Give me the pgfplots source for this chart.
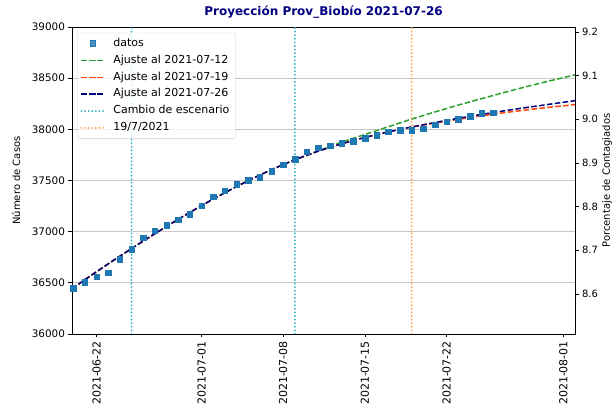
\documentclass[border=0pt]{standalone}
\usepackage{pgfplots}
\pgfplotsset{compat=1.18}
\usepackage{fontspec}
\setmainfont{DejaVu Sans}
\definecolor{tabblue}{HTML}{1F77B4}
\definecolor{tabgreen}{HTML}{2CA02C}
\definecolor{fitred}{HTML}{FF4500}
\definecolor{fitnavy}{HTML}{000080}
\definecolor{tealdot}{HTML}{17AEBF}
\definecolor{orangedot}{HTML}{FF9933}
\definecolor{titlenavy}{HTML}{000080}

\pgfplotstableread{
d v
-11 36450
-10 36505
-9 36560
-8 36600
-7 36730
-6 36830
-5 36940
-4 37010
-3 37065
-2 37115
-1 37170
0 37255
1 37340
2 37400
3 37465
4 37500
5 37530
6 37590
7 37655
8 37710
9 37780
10 37820
11 37840
12 37865
13 37885
14 37915
15 37945
16 37975
17 37993
18 37990
19 38005
20 38045
21 38075
22 38098
23 38127
24 38155
25 38162
}\datos

\pgfplotstableread{
d v
-11.1 36440
-10 36531
-8 36685
-6 36835
-4 36980
-2 37121
0 37255
2 37381
4 37499
6 37607
8 37703
10 37787
12 37859
14 37921
16 37975
18 38023
20 38067
22 38108
24 38146
26 38182
28 38216
30 38248
32 38280
}\fitnavy

\pgfplotstableread{
d v
-11.1 36440
-10 36531
-8 36685
-6 36835
-4 36980
-2 37121
0 37255
2 37381
4 37499
6 37607
8 37703
10 37787
12 37859
14 37921
16 37975
18 38023
20 38060
22 38098
24 38132
26 38164
28 38192
30 38218
32 38242
}\fitred

\pgfplotstableread{
d v
-11.1 36440
-10 36531
-8 36685
-6 36835
-4 36980
-2 37121
0 37255
2 37381
4 37499
6 37607
8 37703
10 37790
12 37875
14 37950
16 38025
18 38100
20 38170
22 38237
24 38300
26 38362
28 38422
30 38478
32 38532
}\fitgreen

\begin{document}
\begin{tikzpicture}
\begin{axis}[
  name=main,
  width=503pt, height=307pt, scale only axis,
  xmin=-11.1, xmax=32, ymin=36000, ymax=39000,
  scaled y ticks=false, scaled x ticks=false,
  xtick={-9,0,7,14,21,31},
  xticklabels={2021-06-22,2021-07-01,2021-07-08,2021-07-15,2021-07-22,2021-08-01},
  xticklabel style={rotate=90, anchor=east, font=\fontsize{11}{13}\selectfont},
  ytick={36000,36500,37000,37500,38000,38500,39000},
  yticklabels={36000,36500,37000,37500,38000,38500,39000},
  yticklabel style={font=\fontsize{10.4}{12}\selectfont},
  xtick pos=bottom, ytick pos=left,
  ymajorgrids,
  grid style={color=black!22, line width=0.8pt},
  tick align=outside, major tick length=3.5pt,
  tick style={black, line width=0.8pt},
  axis line style={line width=0.8pt},
  label style={font=\fontsize{10}{12}\selectfont},
  ylabel={Número de Casos},
  ylabel style={at={(axis description cs:-0.111,0.5)}, anchor=center},
  title={Proyección Prov\_Biobío 2021-07-26},
  title style={at={(0.5,1)}, anchor=base, yshift=5pt, color=titlenavy, font=\fontsize{12}{14}\selectfont\bfseries},
  legend style={at={(0.0105,0.981)}, anchor=north west, draw=black!20, rounded corners=2pt,
    font=\fontsize{11}{13}\selectfont, fill=white, fill opacity=0.8, text opacity=1,
    nodes={inner sep=3.2pt, text height=8pt, text depth=2.5pt},
    /tikz/every odd column/.append style={column sep=5pt}},
  legend cell align=left,
  legend image code/.code={\draw[mark repeat=2,mark phase=2,#1] plot coordinates {(0cm,0cm) (0.4cm,0cm) (0.8cm,0cm)};},
  /pgf/number format/assume math mode=true,
  dotline/.style={line width=1.9pt, line cap=round, dash pattern=on 0pt off 3.6pt},
]
\addplot[only marks, mark=square*, mark size=2.8pt, color=tabblue] table[x=d,y=v] {\datos};
\addlegendentry{datos}
\addplot[tabgreen, line width=1.5pt, dash pattern=on 5.55pt off 2.4pt] table[x=d,y=v] {\fitgreen};
\addlegendentry{Ajuste al 2021-07-12}
\addplot[fitred, line width=1.5pt, dash pattern=on 5.55pt off 2.4pt] table[x=d,y=v] {\fitred};
\addlegendentry{Ajuste al 2021-07-19}
\addplot[fitnavy, line width=1.5pt, dash pattern=on 5.55pt off 2.4pt] table[x=d,y=v] {\fitnavy};
\addlegendentry{Ajuste al 2021-07-26}
\addplot[tealdot, dotline] coordinates {(-6,36000) (-6,39000)};
\addlegendentry{Cambio de escenario}
\addplot[tealdot, dotline, forget plot] coordinates {(8,36000) (8,39000)};
\addplot[orangedot, dotline] coordinates {(18,36000) (18,39000)};
\addlegendentry{19/7/2021}
\end{axis}
\begin{axis}[
  width=503pt, height=307pt, scale only axis,
  xmin=-11.1, xmax=32, ymin=8.5084, ymax=9.2114,
  axis x line=none, axis y line*=right,
  ytick={8.6,8.7,8.8,8.9,9.0,9.1,9.2},
  yticklabels={8.6,8.7,8.8,8.9,9.0,9.1,9.2},
  tick align=outside, major tick length=3.5pt,
  tick style={black, line width=0.8pt},
  axis line style={line width=0.8pt},
  tick label style={font=\fontsize{10}{12}\selectfont},
  label style={font=\fontsize{10}{12}\selectfont},
  ylabel={Porcentaje de Contagiados},
  ylabel style={at={(axis description cs:1.0636,0.5)}, anchor=center, rotate=0},
]
\addplot[draw=none, forget plot] coordinates {(0,8.6)};
\end{axis}
\pgfresetboundingbox
\path[use as bounding box] ([xshift=-72pt,yshift=-74pt]main.south west) rectangle ([xshift=41pt,yshift=27pt]main.north east);
\end{tikzpicture}
\end{document}
